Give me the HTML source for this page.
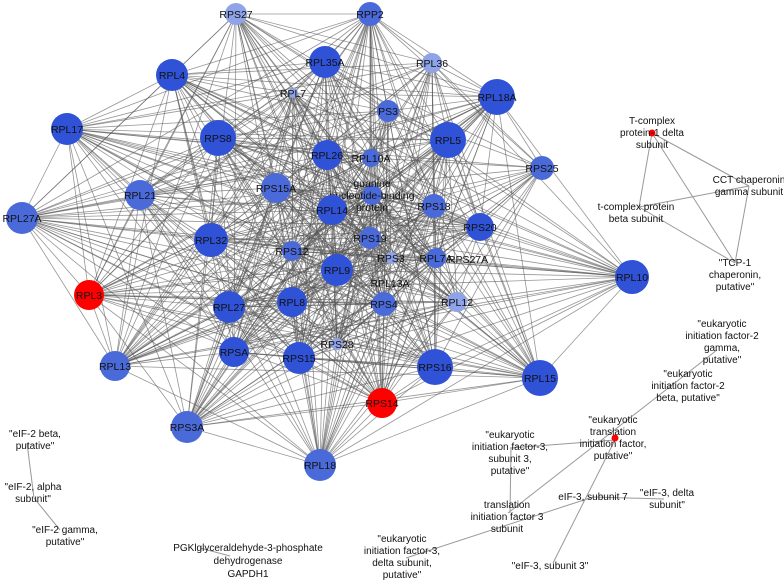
<!DOCTYPE html>
<html><head><meta charset="utf-8"><style>
html,body{margin:0;padding:0;background:#fff;width:784px;height:582px;overflow:hidden}
svg{display:block}
text{font-family:"Liberation Sans",sans-serif;fill:#111}
</style></head><body>
<svg id="s" width="784" height="582" viewBox="0 0 784 582" xmlns="http://www.w3.org/2000/svg">
<g id="edges" stroke="#555" stroke-width="0.8" stroke-opacity="0.62"></g>
<g stroke="#999" stroke-width="1" fill="none">
<line x1="652" y1="133" x2="639" y2="207"/><line x1="652" y1="133" x2="749" y2="186"/>
<line x1="652" y1="133" x2="735" y2="263"/><line x1="639" y1="207" x2="749" y2="186"/>
<line x1="639" y1="207" x2="735" y2="263"/><line x1="749" y1="186" x2="735" y2="263"/>
<line x1="717" y1="350" x2="508" y2="513"/><line x1="510" y1="448" x2="615" y2="440"/>
<line x1="511" y1="448" x2="510" y2="513"/><line x1="615" y1="440" x2="553" y2="563"/>
<line x1="406" y1="558" x2="593" y2="497"/><line x1="593" y1="497" x2="664" y2="499"/>
<line x1="27" y1="443" x2="34" y2="498"/><line x1="34" y1="498" x2="60" y2="530"/>
<line x1="200" y1="548" x2="230" y2="556"/>
</g>
<g id="nodes"></g>
<g font-size="10" text-anchor="middle">
<circle cx="652" cy="133" r="3.5" fill="#f00"/><circle cx="615" cy="438" r="3.5" fill="#f00"/>
<text x="652" y="124">T-complex</text><text x="652" y="136">protein-1 delta</text><text x="652" y="148">subunit</text>
<text x="749" y="183">CCT chaperonin</text><text x="749" y="195">gamma subunit</text>
<text x="636" y="210">t-complex protein</text><text x="636" y="222">beta subunit</text>
<text x="735" y="266">"TCP-1</text><text x="735" y="278">chaperonin,</text><text x="735" y="290">putative"</text>
<text x="722" y="327">"eukaryotic</text><text x="722" y="339">initiation factor-2</text><text x="722" y="351">gamma,</text><text x="722" y="363">putative"</text>
<text x="688" y="377">"eukaryotic</text><text x="688" y="389">initiation factor-2</text><text x="688" y="401">beta, putative"</text>
<text x="613" y="423">"eukaryotic</text><text x="613" y="435">translation</text><text x="613" y="447">initiation factor,</text><text x="613" y="459">putative"</text>
<text x="510" y="438">"eukaryotic</text><text x="510" y="450">initiation factor-3,</text><text x="510" y="462">subunit 3,</text><text x="510" y="474">putative"</text>
<text x="507" y="508">translation</text><text x="507" y="520">initiation factor 3</text><text x="507" y="532">subunit</text>
<text x="593" y="500">eIF-3, subunit 7</text>
<text x="667" y="496">"eIF-3, delta</text><text x="667" y="508">subunit"</text>
<text x="402" y="542">"eukaryotic</text><text x="402" y="554">initiation factor-3,</text><text x="402" y="566">delta subunit,</text><text x="402" y="578">putative"</text>
<text x="550" y="569">"eIF-3, subunit 3"</text>
<text x="35" y="437">"eIF-2 beta,</text><text x="35" y="449">putative"</text>
<text x="33" y="490">"eIF-2, alpha</text><text x="33" y="502">subunit"</text>
<text x="65" y="533">"eIF-2 gamma,</text><text x="65" y="545">putative"</text>
<text x="248" y="551">PGKlglyceraldehyde-3-phosphate</text><text x="248" y="564">dehydrogenase</text><text x="248" y="577">GAPDH1</text>
</g>
</svg>
<script>
var N=[["RPS27",236,14,11,2],["RPP2",370,14,12,1],["RPL35A",325,62,16,0],["RPL36",432,63,10,2],["RPL4",172,75,16,0],["RPL7",293,93,5,2],["RPL18A",497,97,18,0],["PS3",388,111,11,1],["RPL17",67,129,16,0],["RPS8",218,138,18,0],["RPL5",448,140,18,0],["RPL26",327,155,15,0],["RPL10A",371,158,9,1],["RPS25",542,168,12,1],["RPS15A",276,188,15,1],["G",372,195,10,1],["RPL21",140,195,15,1],["RPL14",332,210,15,0],["RPS18",434,206,12,1],["RPL27A",22,218,16,1],["RPS20",480,227,14,0],["RPL32",211,240,17,0],["RPS19",370,238,11,1],["RPS12",292,251,10,1],["RPS3",391,258,6,2],["RPL7A",436,258,10,1],["RPL9",337,270,16,0],["RPL10",632,277,17,0],["RPL3",89,295,15,3],["RPL27",229,307,16,0],["RPL8",292,302,15,0],["RPS4",384,304,12,1],["RPL12",457,302,10,2],["RPS28",337,344,6,2],["RPSA",234,352,15,0],["RPS15",299,358,16,0],["RPL13",115,366,15,1],["RPS16",435,367,18,0],["RPS14",382,403,15,3],["RPL15",540,378,18,0],["RPS3A",187,427,16,1],["RPL18",320,465,16,1]];
var ns="http://www.w3.org/2000/svg",E=document.getElementById("edges"),G=document.getElementById("nodes");
var seed=7;function rnd(){seed=(seed*16807)%2147483647;return seed/2147483647;}
for(var i=0;i<N.length;i++)for(var j=i+1;j<N.length;j++){if(rnd()<0.72){var l=document.createElementNS(ns,"line");l.setAttribute("x1",N[i][1]);l.setAttribute("y1",N[i][2]);l.setAttribute("x2",N[j][1]);l.setAttribute("y2",N[j][2]);E.appendChild(l);}}
var C=["#2f52d6","#4a6ad9","#8fa3e8","#ff0000"];
N.forEach(function(n){var c=document.createElementNS(ns,"circle");c.setAttribute("cx",n[1]);c.setAttribute("cy",n[2]);c.setAttribute("r",n[3]);c.setAttribute("fill",C[n[4]]);G.appendChild(c);
var lines=n[0]=="G"?["guanine","nucleotide-binding","protein"]:[n[0]];
lines.forEach(function(s,k){var t=document.createElementNS(ns,"text");t.setAttribute("x",n[1]);t.setAttribute("y",n[2]+4+(k-(lines.length-1)/2)*12);t.setAttribute("text-anchor","middle");t.setAttribute("font-size","10.5");t.textContent=s;G.appendChild(t);});});
var x=document.createElementNS(ns,"text");x.setAttribute("x",468);x.setAttribute("y",263);x.setAttribute("text-anchor","middle");x.setAttribute("font-size","10.5");x.textContent="RPS27A";G.appendChild(x);
x=document.createElementNS(ns,"text");x.setAttribute("x",390);x.setAttribute("y",287);x.setAttribute("text-anchor","middle");x.setAttribute("font-size","10.5");x.textContent="RPL13A";G.appendChild(x);
</script>
</body></html>
